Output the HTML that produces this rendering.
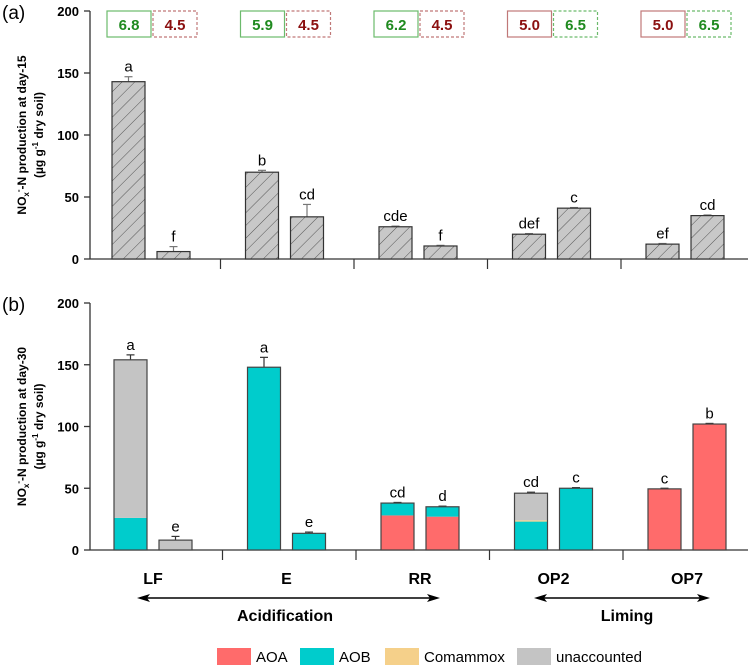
<!DOCTYPE html>
<html><head><meta charset="utf-8"><style>
body{margin:0;background:#fff;}
svg{font-family:"Liberation Sans",Arial,sans-serif;}
</style></head><body>
<svg id="c" width="750" height="666" viewBox="0 0 750 666" xmlns="http://www.w3.org/2000/svg">
<defs>
<pattern id="hatch" width="9" height="9" patternUnits="userSpaceOnUse" patternTransform="rotate(45)">
<rect width="9" height="9" fill="#c8c8c8"/><line x1="0" y1="0" x2="0" y2="9" stroke="#555" stroke-width="1"/>
</pattern>
</defs>
<g id="g"></g>
</svg>
<script>
const groups=["LF","E","RR","OP2","OP7"];
const aVals=[143,6,70,34,26,10.5,20,41,12,35];
const aErr=[4,4,1.5,10,0.5,0.5,0.5,0.5,0.5,0.5];
const aLetters=["a","f","b","cd","cde","f","def","c","ef","cd"];
const bAOA=[0,0,0,0,28,27,0,0,49.5,102];
const bAOB=[26,0,148,13.5,10,8,23,50,0,0];
const bCom=[0,0,0,0,0,0,1,0,0,0];
const bUnacc=[128,8,0,0,0,0,22,0,0,0];
const bErr=[4,3,8,1,0.5,0.5,0.8,0.5,0.5,0.5];
const bLetters=["a","e","a","e","cd","d","cd","c","c","b"];
const phLeft=["6.8","5.9","6.2","5.0","5.0"];
const phRight=["4.5","4.5","4.5","6.5","6.5"];
const yTicks=[0,50,100,150,200];
const NS="http://www.w3.org/2000/svg";
const G=document.getElementById('g');
function el(t,a,txt){const e=document.createElementNS(NS,t);for(const k in a)e.setAttribute(k,a[k]);if(txt!==undefined)e.textContent=txt;G.appendChild(e);return e;}
function panel(y0,y200,x0,label,day,draw){
  const y=v=>y0-(y0-y200)*v/200;
  const ax=el('line',{x1:90,y1:y200,x2:90,y2:y0,stroke:'#333','stroke-width':1.3});
  
  const bx=el('line',{x1:90,y1:y0,x2:748,y2:y0,stroke:'#333','stroke-width':1.3});
  
  yTicks.forEach(t=>{
    el('line',{x1:84,y1:y(t),x2:90,y2:y(t),stroke:'#333','stroke-width':1.3});
    const tx=el('text',{x:79,y:y(t)+5,'text-anchor':'end','font-size':13,'font-weight':'bold'},t);
    
  });
  for(let i=1;i<5;i++){const sx=x0-9+133.5*i-16;el('line',{x1:sx,y1:y0,x2:sx,y2:y0+10,stroke:'#333','stroke-width':1.2});}
  const pl=el('text',{x:2,y:y200+8,'font-size':19},'('+label+')');
  
  const cy=(y0+y200)/2;
  const t1=el('text',{transform:`translate(26,${cy}) rotate(-90)`,'text-anchor':'middle','font-size':12,'font-weight':'bold'});
  t1.innerHTML='NO<tspan font-size="8" dy="3">x</tspan><tspan font-size="8" dy="-8">-</tspan><tspan dy="5">-N production at day-'+day+'</tspan>';
  
  const t2=el('text',{transform:`translate(43,${cy}) rotate(-90)`,'text-anchor':'middle','font-size':12,'font-weight':'bold'});
  t2.innerHTML='(µg g<tspan font-size="8" dy="-5">-1</tspan><tspan dy="5"> dry soil)</tspan>';
  
  for(let i=0;i<10;i++){const gi=Math.floor(i/2);const bx0=x0+133.5*gi+(i%2)*45;draw(i,bx0,33,y);}
}
// panel a
panel(259,11,112,'a','15',(i,x,w,y)=>{
  const v=aVals[i];
  el('line',{x1:x+w/2,y1:y(v),x2:x+w/2,y2:y(v+aErr[i]),stroke:'#777','stroke-width':1.2});
  el('line',{x1:x+w/2-4,y1:y(v+aErr[i]),x2:x+w/2+4,y2:y(v+aErr[i]),stroke:'#777','stroke-width':1.2});
  const r=el('rect',{x:x,y:y(v),width:w,height:y(0)-y(v),fill:'url(#hatch)',stroke:'#333','stroke-width':1.2});
  
  const lt=el('text',{x:x+w/2,y:y(v+aErr[i])-5,'text-anchor':'middle','font-size':15},aLetters[i]);
  
});
// pH boxes
for(let g=0;g<5;g++){
  const bx=107+133.5*g;
  const lg=parseFloat(phLeft[g])>5.5, rg=parseFloat(phRight[g])>5.5;
  const lb=el('rect',{x:bx,y:11,width:44,height:26,fill:'#fff',stroke:lg?'#6cba6c':'#c07878','stroke-width':1.2});
  
  el('text',{x:bx+22,y:30,'text-anchor':'middle','font-size':15,'font-weight':'bold',fill:lg?'#1f8a1f':'#8b1010'},phLeft[g]);
  const rb=el('rect',{x:bx+46,y:11,width:44,height:26,fill:'#fff',stroke:rg?'#6cba6c':'#c07878','stroke-width':1.2,'stroke-dasharray':'3,2'});
  
  el('text',{x:bx+68,y:30,'text-anchor':'middle','font-size':15,'font-weight':'bold',fill:rg?'#1f8a1f':'#8b1010'},phRight[g]);
}
// panel b
const cols=['#ff6b6b','#00cccc','#f5d08a','#c4c4c4'];
panel(550,303,114,'b','30',(i,x,w,y)=>{
  const parts=[bAOA[i],bAOB[i],bCom[i],bUnacc[i]];const tot=parts.reduce((a,b)=>a+b,0);
  el('line',{x1:x+w/2,y1:y(tot),x2:x+w/2,y2:y(tot+bErr[i]),stroke:'#333','stroke-width':1.2});
  el('line',{x1:x+w/2-4,y1:y(tot+bErr[i]),x2:x+w/2+4,y2:y(tot+bErr[i]),stroke:'#333','stroke-width':1.2});
  let acc=0;const names=['aoa','aob','comammox','unaccounted'];
  parts.forEach((p,k)=>{if(p<=0)return;const s=el('rect',{x:x,y:y(acc+p),width:w,height:y(acc)-y(acc+p),fill:cols[k]});
    acc+=p;});
  const o=el('rect',{x:x,y:y(tot),width:w,height:y(0)-y(tot),fill:'none',stroke:'#444','stroke-width':1.2});
  
  const lt=el('text',{x:x+w/2,y:y(tot+bErr[i])-5,'text-anchor':'middle','font-size':15},bLetters[i]);
  
});
// group labels
groups.forEach((gname,g)=>{const t=el('text',{x:153+133.5*g,y:584,'text-anchor':'middle','font-size':16,'font-weight':'bold'},gname);
  });
function arrow(x1,x2,yy,name){
  const a=el('line',{x1:x1+8,y1:yy,x2:x2-8,y2:yy,stroke:'#000','stroke-width':1.5});
  
  el('polygon',{points:`${x1},${yy} ${x1+13},${yy-4} ${x1+10},${yy} ${x1+13},${yy+4}`,fill:'#000'});
  el('polygon',{points:`${x2},${yy} ${x2-13},${yy-4} ${x2-10},${yy} ${x2-13},${yy+4}`,fill:'#000'});
}
arrow(137,440,598,'acidification-arrow');
arrow(534,710,598,'liming-arrow');
let t=el('text',{x:285,y:621,'text-anchor':'middle','font-size':16,'font-weight':'bold'},'Acidification');

t=el('text',{x:627,y:621,'text-anchor':'middle','font-size':16,'font-weight':'bold'},'Liming');

// legend
const legNames=['AOA','AOB','Comammox','unaccounted'];const legX=[217,300,385,517];
legNames.forEach((n,k)=>{
  const r=el('rect',{x:legX[k],y:648,width:34,height:17,fill:cols[k]});
  
  const tx=el('text',{x:legX[k]+39,y:662,'font-size':15},n);
  
});
</script>
</body></html>
